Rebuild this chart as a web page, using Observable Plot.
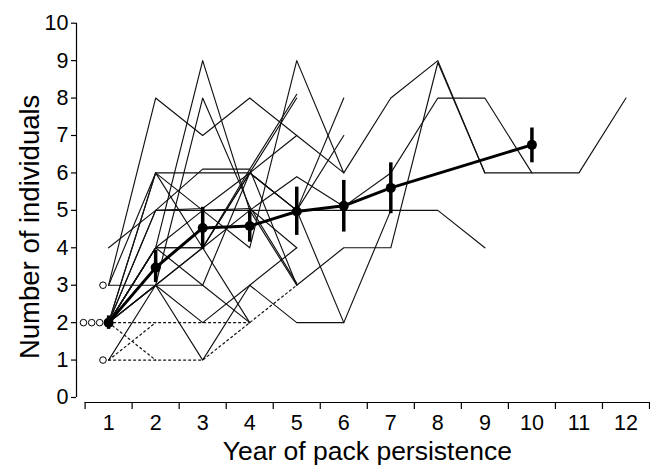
<!DOCTYPE html>
<html><head><meta charset="utf-8">
<script src="https://cdn.jsdelivr.net/npm/d3@7"></script>
<script src="https://cdn.jsdelivr.net/npm/@observablehq/plot@0.6"></script>
<style>body{margin:0;background:#fff} svg{display:block}</style>
</head><body><div id="chart"></div>
<script>
// ---- data ----
const years = [1,2,3,4,5,6,7,8,9,10,11,12];
const yTicks = [0,1,2,3,4,5,6,7,8,9,10];
const xBoundaries = [0.5,1.5,2.5,3.5,4.5,5.5,6.5,7.5,8.5,9.5,10.5,11.5,12.5];

// individual pack trajectories (values by year of persistence, starting year 1)
const pack01 = [3, 8, 7, 8, 7, 6];
const pack02 = [2, 4, 9, 5, 3];
const pack03 = [2, 3, 8, 5.1, 3.05];
const pack04 = [2, 5, 5, 4, 9, 6, 8, 9, 6];
const pack05 = [2, 3, 4, 5, 5.9, 5.1, 6, 8, 8, 6, 6, 8];
const pack06 = [2, 4, 5, 5, 5, 5, 5];
const pack07 = [2, 3, 2, 3, 2, 2, 5, 5, 4];
const pack08 = [1, 3, 1, 3, 4];
const pack09 = [2, 3, 4, 6, 8];
const pack10 = [2, 4, 4, 6.1, 8.1];
const pack11 = [2, 5, 5.05, 6, 5, 8];
const pack12 = [3, 6, 6, 6, 5, 7];
const pack13 = [4, 5, 6.1, 6.1, 3];
const pack14 = [2, 6, 5, 5.05, 4];
const pack15 = [2, 6, 4, 2];
const pack16 = [2, 4, 4, 6, 5, 2];
const pack17 = [3, 3, 3, 2];
const pack18 = [2, 4, 3, 6, 7];
const pack19 = [null, null, null, null, 3, 4, 4, 8.95, 6, 6];
const packSeries = [pack01,pack02,pack03,pack04,pack05,pack06,pack07,pack08,pack09,pack10,
  pack11,pack12,pack13,pack14,pack15,pack16,pack17,pack18,pack19];

// dotted (inferred) segments, values by year starting year 1
const dotted01 = [2, 2, 2, 2];
const dotted02 = [1, 1, 1, 2, 3];
const dotted03 = [2, 1];
const dotted04 = [1, 2];
const dottedSeries = [dotted01, dotted02, dotted03, dotted04];

// packs observed a single year (jittered to the left of year 1)
const singleX = [0.88, 0.81, 0.64, 0.465, 0.88];
const singleY = [3, 2, 2, 2, 1];

// mean ± error
const meanYears = [1, 2, 3, 4, 5, 6, 7, 10];
const meanValues = [2.0, 3.47, 4.53, 4.58, 4.97, 5.12, 5.6, 6.75];
const meanLower = [1.82, 3.07, 3.95, 4.15, 4.33, 4.42, 4.91, 6.27];
const meanUpper = [2.18, 3.93, 5.08, 5.0, 5.62, 5.8, 6.27, 7.2];

// ---- tables ----
const toRows = (series) => series.flatMap((vals, i) =>
  vals.map((v, j) => ({id: i, year: years[j], n: v == null ? NaN : v})));
const packRows = toRows(packSeries);
const dottedRows = toRows(dottedSeries);
const singles = singleX.map((x, i) => ({x, y: singleY[i]}));
const means = meanYears.map((y, i) => ({year: y, mean: meanValues[i], lo: meanLower[i], hi: meanUpper[i]}));

const font = "'Liberation Sans', Arial, sans-serif";
const chart = Plot.plot({
  width: 650, height: 465,
  marginLeft: 84.6, marginRight: 1, marginTop: 22.7, marginBottom: 68,
  x: {domain: [0.5, 12.5]},
  y: {domain: [0, 10]},
  style: {fontFamily: font, fontSize: "21px", color: "#000", background: "#fff", overflow: "visible"},
  marks: [
    Plot.ruleX([0.5], {y1: 0, y2: 10, dx: -8.6, stroke: "#000", strokeWidth: 1.2}),
    Plot.axisY({ticks: yTicks, tickSize: 5, dx: -8.6, tickPadding: 3, fontSize: 21.5, label: null, strokeWidth: 1.2}),
    Plot.ruleY([0], {x1: 0.5, x2: 12.5, dy: 5, stroke: "#000", strokeWidth: 1.2}),
    Plot.axisX({ticks: xBoundaries, tickSize: 7, dy: 5, tickFormat: () => "", label: null, strokeWidth: 1.2}),
    Plot.axisX({ticks: years, tickSize: 0, dy: 5, tickPadding: 12, fontSize: 21.5, label: null}),
    Plot.text(["Year of pack persistence"], {frameAnchor: "bottom", dy: 54, fontSize: 26.5, lineAnchor: "middle"}),
    Plot.text(["Number of individuals"], {frameAnchor: "left", textAnchor: "middle", dx: -55, dy: 16.5, rotate: -90, fontSize: 27.5, lineAnchor: "middle"}),
    Plot.line(packRows, {x: "year", y: "n", z: "id", stroke: "#111", strokeWidth: 1.15, curve: "linear"}),
    Plot.line(dottedRows, {x: "year", y: "n", z: "id", stroke: "#111", strokeWidth: 1.2, strokeDasharray: "2,3"}),
    Plot.line(means, {x: "year", y: "mean", stroke: "#000", strokeWidth: 3}),
    Plot.ruleX(means, {x: "year", y1: "lo", y2: "hi", stroke: "#000", strokeWidth: 3.5}),
    Plot.dot(means, {x: "year", y: "mean", r: 5, fill: "#000"}),
    Plot.dot(singles, {x: "x", y: "y", r: 3.3, fill: "#fff", stroke: "#000", strokeWidth: 1})
  ]
});
document.getElementById("chart").appendChild(chart);
</script>
</body></html>
